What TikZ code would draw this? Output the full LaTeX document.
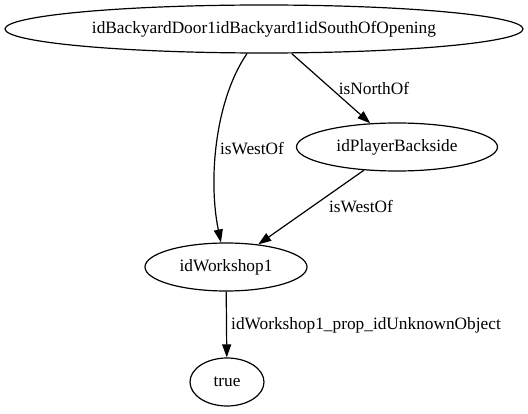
\documentclass[tikz,border=0pt]{standalone}
\usepackage{fontspec}
\setmainfont{Liberation Serif}
\usetikzlibrary{arrows.meta, shapes.geometric}
\tikzset{
  statenode/.style={draw, ellipse, line width=1.2pt, inner sep=0pt, minimum height=48pt},
  relarr/.style={-{Triangle[length=13pt, width=9pt]}, line width=1.2pt},
  rellabel/.style={inner sep=0pt},
}

\begin{document}
\begin{tikzpicture}[x=1pt, y=1pt, font=\fontsize{17.3}{20}\selectfont]
    \useasboundingbox (0,0) rectangle (528,413);
    \node[statenode, minimum width=518pt] (back) at (264,384) {idBackyardDoor1idBackyard1idSouthOfOpening};
    \node[statenode, minimum width=201pt] (player) at (397,266) {idPlayerBackside};
    \node[statenode, minimum width=162pt] (workshop) at (226,146) {idWorkshop1};
    \node[statenode, minimum width=74pt] (truenode) at (227,31) {true};
    \node[rellabel] (lnorth) at (374,325) {isNorthOf};
    \node[rellabel] (lwest) at (252,264) {isWestOf};
    \node[rellabel] (lwestb) at (361,206) {isWestOf};
    \node[rellabel] (lprop) at (366,88) {idWorkshop1\_prop\_idUnknownObject};
    \draw[relarr] (back) .. controls (215,313) and (208,233) .. (workshop);
    \draw[relarr] (back) -- (player);
    \draw[relarr] (player) -- (workshop);
    \draw[relarr] (workshop) -- (truenode);
  \end{tikzpicture}
\end{document}
